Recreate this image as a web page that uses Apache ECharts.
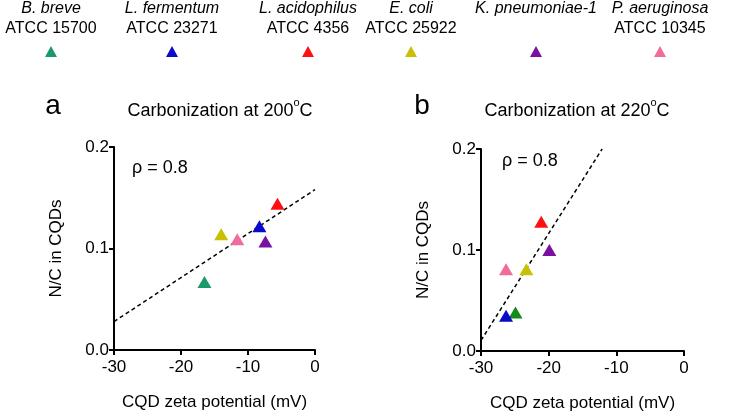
<!DOCTYPE html>
<html><head><meta charset="utf-8">
<script src="https://cdn.jsdelivr.net/npm/echarts@6/dist/echarts.min.js"></script>
<style>html,body{margin:0;padding:0;background:#fff}#c{width:733px;height:416px}</style>
</head><body><div id="c"></div>
<script>
const species = ['B. breve','L. fermentum','L. acidophilus','E. coli','K. pneumoniae-1','P. aeruginosa'];
const strains = ['ATCC 15700','ATCC 23271','ATCC 4356','ATCC 25922','','ATCC 10345'];
const colorsA = ['#1a9a6a','#0a0ac8','#ff1010','#c8c000','#7a10a0','#f06c9c'];
const colorsB = ['#128a1c','#0a0ac8','#ff1010','#c8c000','#7a10a0','#f06c9c'];
const zetaA = [-16.5,-8.3,-5.6,-14.0,-7.4,-11.6];
const ncA   = [0.067,0.122,0.144,0.114,0.107,0.109];
const zetaB = [-24.9,-26.3,-21.1,-23.3,-19.9,-26.3];
const ncB   = [0.038,0.035,0.128,0.081,0.100,0.081];
const fitA = [[-30,0.028],[0,0.158]];
const fitB = [[-30,0.0105],[-12.1,0.2]];
const xTicks = [-30,-20,-10,0];
const legendX = [51,172,308,411,536,660];

const font = 'Liberation Sans, Arial, sans-serif';
const chart = echarts.init(document.getElementById('c'));

function xAxis(gi){
  return {gridIndex:gi,type:'value',min:-30,max:0,interval:10,
    name:'CQD zeta potential (mV)',nameLocation:'middle',nameGap:44,
    nameTextStyle:{fontFamily:font,fontSize:17,color:'#000'},
    axisLine:{onZero:false,lineStyle:{color:'#000',width:2}},
    axisTick:{show:true,length:5,lineStyle:{color:'#000',width:2}},
    axisLabel:{fontFamily:font,fontSize:17,color:'#000',margin:9,formatter:v=>String(v)},
    splitLine:{show:false}};
}
function yAxis(gi){
  return {gridIndex:gi,type:'value',min:0,max:0.2,interval:0.1,
    name:'N/C in CQDs',nameLocation:'middle',nameGap:49,
    nameTextStyle:{fontFamily:font,fontSize:17,color:'#000'},
    axisLine:{show:true,onZero:false,lineStyle:{color:'#000',width:2}},
    axisTick:{show:true,length:5,lineStyle:{color:'#000',width:2}},
    axisLabel:{fontFamily:font,fontSize:17,color:'#000',margin:5,formatter:v=>v.toFixed(1)},
    splitLine:{show:false}};
}
const series = [];
species.forEach((s,i)=>{
  series.push({name:s,type:'scatter',xAxisIndex:0,yAxisIndex:0,symbol:'triangle',symbolSize:[14,12],
    itemStyle:{color:colorsA[i],opacity:1},data:[[zetaA[i],ncA[i]]],z:3});
  series.push({name:s,type:'scatter',xAxisIndex:1,yAxisIndex:1,symbol:'triangle',symbolSize:[14,12],
    itemStyle:{color:colorsB[i],opacity:1},data:[[zetaB[i],ncB[i]]],z:3});
});
series.push({type:'line',xAxisIndex:0,yAxisIndex:0,data:fitA,symbol:'none',lineStyle:{color:'#000',width:1.5,type:[4,3]},z:2,silent:true});
series.push({type:'line',xAxisIndex:1,yAxisIndex:1,data:fitB,symbol:'none',lineStyle:{color:'#000',width:1.5,type:[4,3]},z:2,silent:true});

const legends = species.map((s,i)=>({data:[s],left:legendX[i]-6,top:46,icon:'triangle',itemWidth:12,itemHeight:11,
  formatter:()=>'',selectedMode:false,padding:0,itemGap:0,textStyle:{fontSize:1},itemStyle:{opacity:1}}));

const graphics = [];
species.forEach((s,i)=>{
  graphics.push({type:'text',x:legendX[i],y:1,style:{text:s,font:'italic 16px '+font,fill:'#000',textAlign:'center'}});
  if(strains[i]) graphics.push({type:'text',x:legendX[i],y:21,style:{text:strains[i],font:'16px '+font,fill:'#000',textAlign:'center'}});
});
const panels = [{lab:'a',lx:53,tx:220,t:'200',rx:132,ry:159},{lab:'b',lx:422,tx:577,t:'220',rx:502,ry:152}];
panels.forEach(p=>{
  graphics.push({type:'text',x:p.lx,y:92,style:{text:p.lab,font:'28px '+font,fill:'#000',textAlign:'center'}});
  graphics.push({type:'text',x:p.tx,y:97,style:{text:'{n|Carbonization at '+p.t+'}{s|o}{n|C}',textAlign:'center',fill:'#000',
    rich:{n:{fontSize:18,lineHeight:23,fontFamily:font,verticalAlign:'bottom'},s:{fontSize:11,lineHeight:11,verticalAlign:'top',fontFamily:font}}}});
  graphics.push({type:'text',x:p.rx,y:p.ry,style:{text:'ρ = 0.8',font:'18px '+font,fill:'#000'}});
});

chart.setOption({
  animation:false,
  grid:[{left:114,top:147,width:201,height:203},{left:481,top:149,width:203,height:202}],
  xAxis:[xAxis(0),xAxis(1)],
  yAxis:[yAxis(0),yAxis(1)],
  legend:legends,
  series:series,
  graphic:graphics
});
</script></body></html>
